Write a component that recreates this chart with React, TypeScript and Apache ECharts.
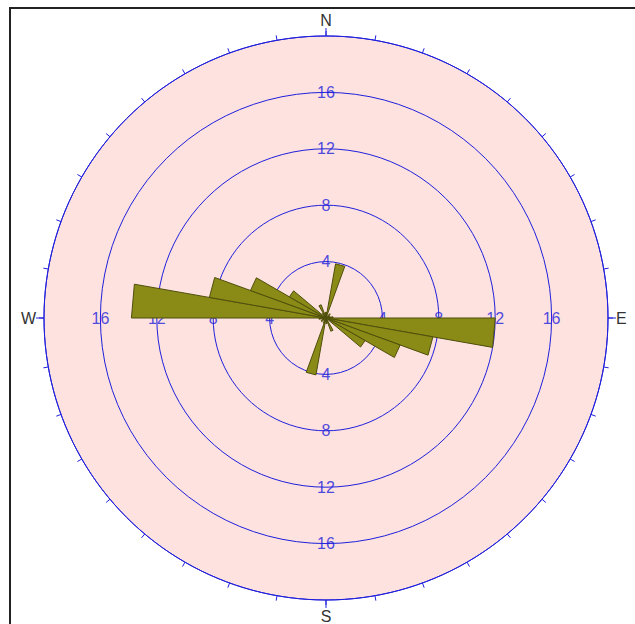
import React, { useEffect, useRef } from 'react';
import * as echarts from 'echarts';

// Rose diagram data: 10° bins, start azimuth (deg from N, clockwise) and length
const binWidth = 10;
const petalStart = [0, 10, 40, 60, 80, 90, 100, 110, 120, 150, 170, 190, 200, 230, 250, 260, 270, 280, 290, 300, 320, 330, 350];
const petalValue = [0.4, 3.9, 0.4, 0.3, 0.5, 12.0, 7.7, 5.6, 3.2, 1.0, 0.4, 4.1, 0.4, 0.4, 0.3, 0.5, 13.8, 8.4, 5.7, 3.0, 0.4, 1.0, 0.4];

const radiusMax = 20;
const radiusStep = 4;
const ringValues = [4, 8, 12, 16];
const ringLabelAngles = [0, 90, 180, 270];
const cardinalAngles = [0, 90, 180, 270];
const cardinalNames = ['N', 'E', 'S', 'W'];

const BLUE = '#2020dc';
const FONT = 'Liberation Sans, Arial, sans-serif';

export default function App() {
  const ref = useRef<HTMLDivElement>(null);
  useEffect(() => {
    const chart = echarts.init(ref.current as HTMLDivElement, null, { renderer: 'svg' });
    const petals = petalStart.map((s, i) => [petalValue[i], s, s + binWidth]);
    const labels: number[][] = [];
    ringLabelAngles.forEach((a) => ringValues.forEach((r) => labels.push([r, a])));
    const cardinalTicks = cardinalAngles.map((a) => [radiusMax, a]);
    const rings = [...ringValues, radiusMax].map((r) => [r, 0]);

    const ringItem = (fillColor: string | null) => (params: any, api: any) => {
      const cs = params.coordSys;
      const p = api.coord([api.value(0), api.value(1)]);
      const dx = p[0] - cs.cx;
      const dy = p[1] - cs.cy;
      const r = Math.sqrt(dx * dx + dy * dy);
      return {
        type: 'circle',
        shape: { cx: cs.cx, cy: cs.cy, r },
        style: fillColor
          ? { fill: fillColor, stroke: 'none' }
          : { fill: 'none', stroke: BLUE, lineWidth: 1 },
      };
    };

    chart.setOption({
      animation: false,
      backgroundColor: '#ffffff',
      polar: { center: [326, 318], radius: 282 },
      angleAxis: {
        type: 'value',
        min: 0,
        max: 360,
        interval: 10,
        startAngle: 90,
        clockwise: true,
        z: 5,
        axisLine: { show: true, lineStyle: { color: BLUE, width: 1 } },
        axisTick: { show: true, inside: false, length: 5, lineStyle: { color: BLUE, width: 1 } },
        axisLabel: {
          show: true,
          margin: 8,
          color: '#333',
          fontSize: 16,
          fontFamily: FONT,
          formatter: (v: number) => {
            const i = cardinalAngles.indexOf(v);
            return i >= 0 ? cardinalNames[i] : '';
          },
        },
        splitLine: { show: false },
      },
      radiusAxis: {
        type: 'value',
        min: 0,
        max: radiusMax,
        interval: radiusStep,
        axisLine: { show: false },
        axisTick: { show: false },
        axisLabel: { show: false },
        splitLine: { show: false },
      },
      graphic: [
        {
          type: 'rect',
          silent: true,
          shape: { x: 10, y: 8, width: 700, height: 700 },
          style: { fill: 'none', stroke: '#222', lineWidth: 2 },
        },
      ],
      series: [
        {
          type: 'custom',
          coordinateSystem: 'polar',
          data: [[radiusMax, 0]],
          silent: true,
          z: 0,
          renderItem: ringItem('#fde2df'),
        },
        {
          type: 'custom',
          coordinateSystem: 'polar',
          data: rings,
          silent: true,
          z: 1,
          renderItem: ringItem(null),
        },
        {
          type: 'scatter',
          coordinateSystem: 'polar',
          data: labels,
          symbol: 'circle',
          symbolSize: 1,
          silent: true,
          z: 2,
          itemStyle: { color: 'rgba(0,0,0,0)' },
          label: {
            show: true,
            position: 'inside',
            formatter: (p: any) => String(p.value[0]),
            color: BLUE,
            fontSize: 16,
            fontFamily: FONT,
          },
        },
        {
          type: 'custom',
          coordinateSystem: 'polar',
          data: cardinalTicks,
          silent: true,
          z: 2,
          renderItem: (params: any, api: any) => {
            const cs = params.coordSys;
            const p = api.coord([api.value(0), api.value(1)]);
            const dx = p[0] - cs.cx;
            const dy = p[1] - cs.cy;
            const len = Math.sqrt(dx * dx + dy * dy) || 1;
            return {
              type: 'line',
              shape: { x1: p[0], y1: p[1], x2: p[0] + (dx / len) * 8, y2: p[1] + (dy / len) * 8 },
              style: { stroke: BLUE, lineWidth: 1 },
            };
          },
        },
        {
          type: 'custom',
          coordinateSystem: 'polar',
          data: petals,
          silent: true,
          z: 3,
          renderItem: (params: any, api: any) => {
            const v = api.value(0);
            const a0 = api.value(1);
            const a1 = api.value(2);
            const c = api.coord([0, a0]);
            const p1 = api.coord([v, a0]);
            const p2 = api.coord([v, a1]);
            return {
              type: 'polygon',
              shape: { points: [c, p1, p2] },
              style: { fill: '#8a8a16', stroke: '#4f4f0c', lineWidth: 1 },
            };
          },
        },
      ],
    });
    return () => chart.dispose();
  }, []);
  return <div ref={ref} style={{ position: 'fixed', left: 0, top: 0, width: 635, height: 624 }} />;
}
